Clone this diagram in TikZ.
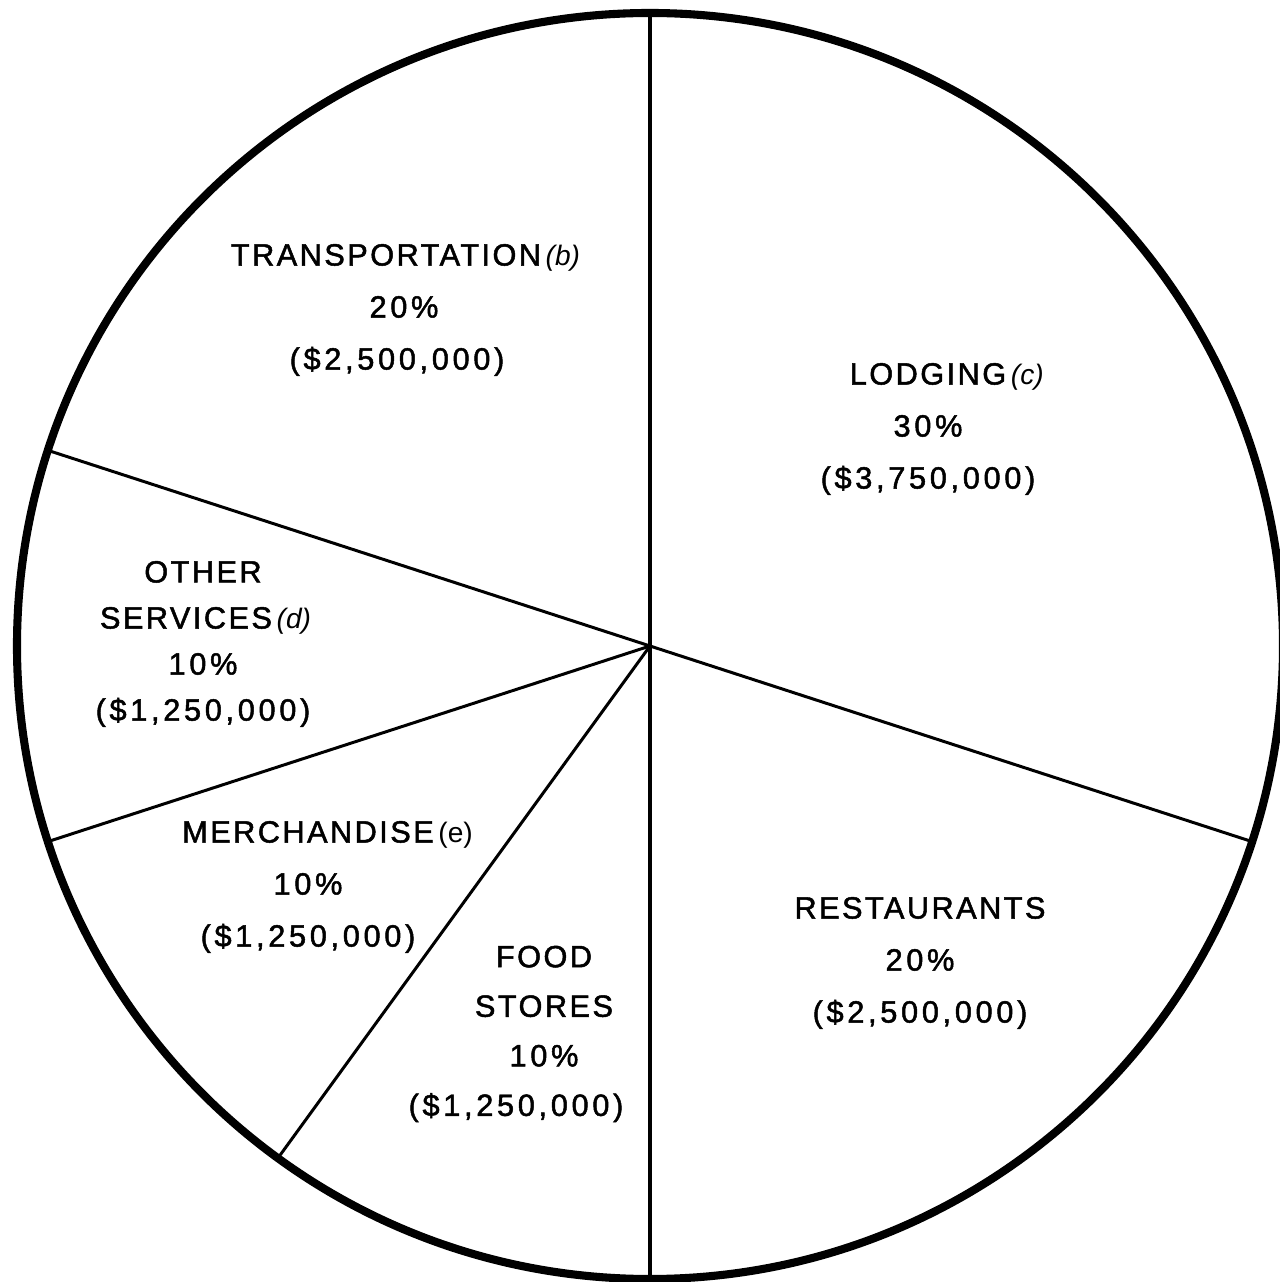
\documentclass[tikz,border=0pt]{standalone}
\usepackage{fontspec}
\setmainfont{Liberation Sans}
\newfontfamily\wordfont[LetterSpace=8,FakeBold=1.6]{Liberation Sans}
\newfontfamily\figfont[LetterSpace=12,FakeBold=1.6]{Liberation Sans}
\usetikzlibrary{positioning}

% small footnote letters after a heading
\newcommand{\fnote}[1]{\rlap{\fontsize{8}{8}\selectfont\itshape\,(#1)}}

\begin{document}
\begin{tikzpicture}[
        rim/.style={
            line width=2.3pt,
            draw=black
        },
        spoke/.style={
            line width=0.85pt,
            draw=black,
            line cap=round
        },
        slice/.style={
            align=center,
            inner sep=0pt,
            font=\fontsize{8.74}{14.8}\selectfont
        }
    ]
        \useasboundingbox (-6.50,-6.36) rectangle (6.30,6.46);
        \clip (-6.50,-6.36) rectangle (6.30,6.46);

        % Centre and rim points
        \coordinate (o) at (0,0);
        \coordinate (p90) at (90:6.33);
        \coordinate (p162) at (162:6.33);
        \coordinate (p198) at (198:6.33);
        \coordinate (p234) at (234:6.33);
        \coordinate (p270) at (270:6.33);
        \coordinate (p342) at (342:6.33);

        % Slice borders
        \draw[spoke, line width=1.1pt] (o) -- (p90);
        \draw[spoke] (o) -- (p162);
        \draw[spoke] (o) -- (p198);
        \draw[spoke] (o) -- (p234);
        \draw[spoke, line width=1.1pt] (o) -- (p270);
        \draw[spoke] (o) -- (p342);
        \draw[rim] (o) circle (6.33);

        % Labels
        \node[slice] (trans) at (-2.64, 3.36)
            {{\wordfont TRANSPORTATION}\fnote{b}\\\hspace*{0.36cm}{\figfont 20\%}\\\hspace*{0.22cm}{\figfont (\$2,500,000)}};
        \node[slice] (lodg) at (2.78, 2.17)
            {{\wordfont LODGING}\fnote{c}\\{\figfont 30\%}\\{\figfont (\$3,750,000)}};
        \node[slice, font=\fontsize{8.74}{13.1}\selectfont] (serv) at (-4.47, 0.02)
            {{\wordfont OTHER}\\\hspace*{-0.34cm}{\wordfont SERVICES}\fnote{d}\\{\figfont 10\%}\\{\figfont (\$1,250,000)}};
        \node[slice] (merch) at (-3.42, -2.41)
            {{\wordfont MERCHANDISE}\rlap{\fontsize{8}{8}\selectfont\,(e)}\\{\figfont 10\%}\\{\figfont (\$1,250,000)}};
        \node[slice, font=\fontsize{8.74}{14.1}\selectfont] (food) at (-1.06, -3.88)
            {{\wordfont FOOD}\\{\wordfont STORES}\\{\figfont 10\%}\\\hspace*{-0.56cm}{\figfont (\$1,250,000)}};
        \node[slice] (rest) at (2.70, -3.17)
            {{\wordfont RESTAURANTS}\\{\figfont 20\%}\\{\figfont (\$2,500,000)}};
    \end{tikzpicture}
\end{document}
